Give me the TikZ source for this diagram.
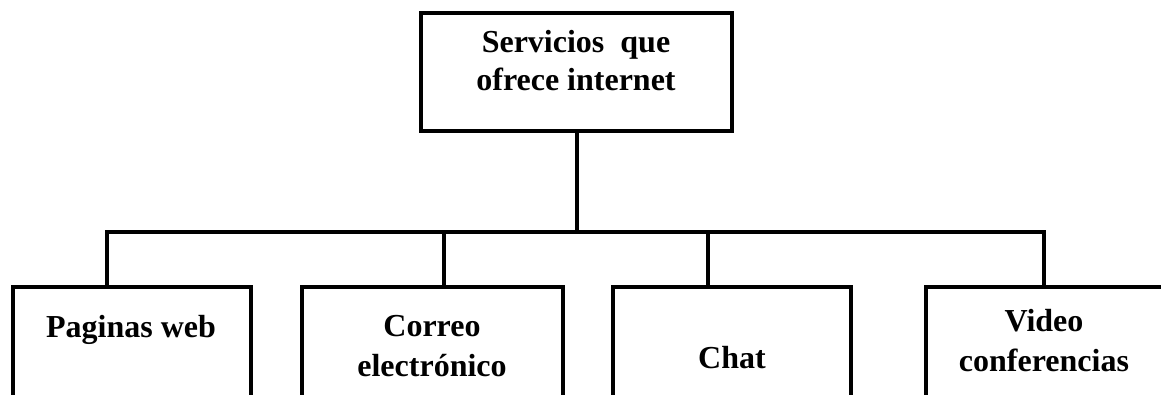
\documentclass[tikz,border=0pt]{standalone}
\usepackage{fontspec}
\setmainfont{Liberation Serif}
\tikzset{
  caja/.style={draw, line width=3pt, inner sep=0pt},
  rama/.style={line width=3pt},
  txt/.style={inner sep=0pt, align=center, font=\bfseries\fontsize{24}{30}\selectfont}
}
\begin{document}
\begin{tikzpicture}[x=0.75pt,y=0.75pt,yscale=-1,xscale=1]
                \useasboundingbox (0,0) rectangle (1161,394);
                % cajas
                \node [caja, minimum width=233.25pt, minimum height=88.5pt] (raiz) at (576.5,72) {};
                \node [caja, minimum width=178.5pt, minimum height=107.25pt] (web) at (132,358.5) {};
                \node [caja, minimum width=195.75pt, minimum height=107.25pt] (correo) at (432.5,358.5) {};
                \node [caja, minimum width=178.5pt, minimum height=107.25pt] (chat) at (732,358.5) {};
                \node [caja, minimum width=178.5pt, minimum height=107.25pt] (video) at (1045,358.5) {};
                % textos
                \node [txt, font=\bfseries\fontsize{24}{28}\selectfont] (traiz) at (576,60.5) {Servicios\ \ que\\ofrece internet};
                \node [txt, anchor=base] (tweb) at (131,337) {Paginas web};
                \node [txt] (tcorreo) at (432,346) {Correo\\electrónico};
                \node [txt, anchor=base] (tchat) at (732,368) {Chat};
                \node [txt] (tvideo) at (1044,341) {Video\\conferencias};
                % ramas
                \coordinate (bweb) at (107,232);
                \coordinate (bcorreo) at (444,232);
                \coordinate (bchat) at (708,232);
                \coordinate (bvideo) at (1044,232);
                \draw [rama] (raiz.south) -- (raiz.south |- bweb);
                \draw [rama, line cap=rect] (bweb) -- (bvideo);
                \draw [rama] (bweb) -- (bweb |- web.north);
                \draw [rama] (bcorreo) -- (bcorreo |- correo.north);
                \draw [rama] (bchat) -- (bchat |- chat.north);
                \draw [rama] (bvideo) -- (bvideo |- video.north);
            \end{tikzpicture}
\end{document}
